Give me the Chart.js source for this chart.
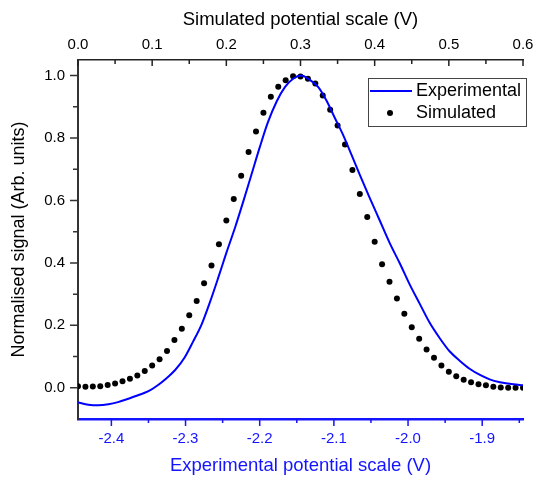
<!DOCTYPE html>
<html>
<head>
<meta charset="utf-8">
<script src="https://cdn.jsdelivr.net/npm/chart.js@4"></script>
<style>
  body { margin: 0; background: #fff; }
  #wrap { width: 535px; height: 477px; }
</style>
</head>
<body>
<div id="wrap"><canvas id="chartPotencial" width="535" height="477"></canvas></div>
<script>
// experimental curve (bottom axis, V)
const expPotential = [-2.445,-2.431,-2.418,-2.404,-2.391,-2.377,-2.364,-2.350,-2.337,-2.326,
  -2.314,-2.301,-2.290,-2.278,-2.267,-2.256,-2.245,-2.233,-2.222,-2.211,
  -2.200,-2.189,-2.177,-2.166,-2.155,-2.144,-2.133,-2.121,-2.110,-2.099,
  -2.087,-2.076,-2.065,-2.052,-2.038,-2.025,-2.011,-1.998,-1.984,-1.971,
  -1.957,-1.944,-1.930,-1.917,-1.903,-1.890,-1.876,-1.858,-1.845];
const expSignal = [-0.047,-0.054,-0.056,-0.053,-0.046,-0.035,-0.024,-0.011,0.009,0.030,
  0.057,0.098,0.147,0.205,0.275,0.352,0.432,0.515,0.598,0.684,
  0.770,0.850,0.918,0.963,0.990,1.000,0.987,0.963,0.920,0.866,
  0.807,0.745,0.682,0.610,0.535,0.465,0.398,0.332,0.268,0.209,
  0.158,0.117,0.086,0.061,0.041,0.027,0.018,0.011,0.008];

// simulated points (top axis, V)
const simPotential = [0.00,0.01,0.02,0.03,0.04,0.05,0.06,0.07,0.08,0.09,
  0.10,0.11,0.12,0.13,0.14,0.15,0.16,0.17,0.18,0.19,
  0.20,0.21,0.22,0.23,0.24,0.25,0.26,0.27,0.28,0.29,
  0.30,0.31,0.32,0.33,0.34,0.35,0.36,0.37,0.38,0.39,
  0.40,0.41,0.42,0.43,0.44,0.45,0.46,0.47,0.48,0.49,
  0.50,0.51,0.52,0.53,0.54,0.55,0.56,0.57,0.58,0.59,0.60];
const simSignal = [0.005,0.003,0.004,0.005,0.009,0.014,0.021,0.029,0.039,0.054,
  0.071,0.091,0.118,0.153,0.189,0.232,0.278,0.335,0.392,0.460,
  0.536,0.605,0.679,0.755,0.821,0.881,0.932,0.964,0.985,0.998,
  0.997,0.990,0.975,0.936,0.891,0.840,0.779,0.698,0.621,0.547,
  0.468,0.396,0.340,0.286,0.237,0.194,0.157,0.123,0.096,0.071,
  0.051,0.037,0.026,0.018,0.011,0.008,0.003,0.001,0.000,0.000,0.000];

// tick labels
const bottomTicks = [-2.4,-2.3,-2.2,-2.1,-2.0,-1.9];
const bottomMinor = [-2.35,-2.25,-2.15,-2.05,-1.95,-1.85];
const topTicks = [0.0,0.1,0.2,0.3,0.4,0.5,0.6];
const topMinor = [0.05,0.15,0.25,0.35,0.45,0.55];
const yTicks = [0.0,0.2,0.4,0.6,0.8,1.0];
const yMinor = [0.1,0.3,0.5,0.7,0.9];

const azul = '#1414ff';
const fuente = 'Liberation Sans, Arial, sans-serif';

const marcas = {
  id: 'marcas',
  afterDraw(chart) {
    const ctx = chart.ctx;
    const a = chart.chartArea;
    const dibujar = (scale, vals, len, color) => {
      ctx.save();
      ctx.strokeStyle = color;
      ctx.lineWidth = 1.5;
      ctx.beginPath();
      vals.forEach(v => {
        const p = scale.getPixelForValue(v);
        if (scale.axis === 'y') { ctx.moveTo(a.left, p); ctx.lineTo(a.left - len, p); }
        else if (scale.position === 'top') { ctx.moveTo(p, a.top); ctx.lineTo(p, a.top + len); }
        else { ctx.moveTo(p, a.bottom); ctx.lineTo(p, a.bottom + len); }
      });
      ctx.stroke();
      ctx.restore();
    };
    dibujar(chart.scales.x, bottomTicks, 7, azul);
    dibujar(chart.scales.x, bottomMinor, 4, azul);
    dibujar(chart.scales.x2, topTicks, 6, '#222');
    dibujar(chart.scales.x2, topMinor, 4, '#222');
    dibujar(chart.scales.y, yTicks, 8, '#333');
    dibujar(chart.scales.y, yMinor, 5, '#333');

    // legend box inside the plot
    const ds = chart.data.datasets;
    ctx.save();
    ctx.strokeStyle = '#444';
    ctx.lineWidth = 1;
    ctx.strokeRect(368.5, 78.5, 158, 48);
    ctx.strokeStyle = ds[0].borderColor;
    ctx.lineWidth = 2;
    ctx.beginPath(); ctx.moveTo(370, 91); ctx.lineTo(412, 91); ctx.stroke();
    ctx.fillStyle = ds[1].backgroundColor;
    ctx.beginPath(); ctx.arc(390, 113, 3, 0, Math.PI * 2); ctx.fill();
    ctx.fillStyle = '#000';
    ctx.font = '18px ' + fuente;
    ctx.textBaseline = 'middle';
    ctx.fillText(ds[0].label, 416, 91);
    ctx.fillText(ds[1].label, 416, 113);
    ctx.restore();
  }
};

const fijarTicks = vals => scale => { scale.ticks = vals.map(v => ({ value: v })); };
const ajusteX = h => s => { s.height = h; s.paddingLeft = 0; s.paddingRight = 0; };

new Chart(document.getElementById('chartPotencial'), {
  type: 'scatter',
  data: {
    datasets: [{
      label: 'Experimental',
      data: expPotential.map((x, i) => ({ x: x, y: expSignal[i] })),
      xAxisID: 'x',
      showLine: true,
      borderColor: '#0000ff',
      backgroundColor: '#0000ff',
      borderWidth: 2,
      pointRadius: 0,
      cubicInterpolationMode: 'monotone'
    }, {
      label: 'Simulated',
      data: simPotential.map((x, i) => ({ x: x, y: simSignal[i] })),
      xAxisID: 'x2',
      showLine: false,
      backgroundColor: '#000',
      borderColor: '#000',
      pointRadius: 3,
      borderWidth: 0
    }]
  },
  options: {
    responsive: false,
    animation: false,
    layout: { padding: { left: 0, right: 12, top: 0, bottom: 0 } },
    plugins: { legend: { display: false }, tooltip: { enabled: false } },
    scales: {
      x: {
        type: 'linear', position: 'bottom', min: -2.445, max: -1.845,
        afterBuildTicks: fijarTicks(bottomTicks),
        afterFit: ajusteX(58),
        grid: { display: false, drawTicks: false },
        border: { display: true, color: azul, width: 2.5 },
        ticks: { color: azul, font: { family: fuente, size: 15 }, padding: 11, maxRotation: 0, autoSkip: false,
          callback: v => v.toFixed(1) },
        title: { display: true, text: 'Experimental potential scale (V)', color: azul,
          font: { family: fuente, size: 18.5 }, padding: { top: 0, bottom: 0 } }
      },
      x2: {
        type: 'linear', position: 'top', min: 0, max: 0.6,
        afterBuildTicks: fijarTicks(topTicks),
        afterFit: ajusteX(60),
        grid: { display: false, drawTicks: false },
        border: { display: true, color: '#222', width: 1.5 },
        ticks: { color: '#000', font: { family: fuente, size: 15 }, padding: 6, maxRotation: 0, autoSkip: false,
          callback: v => v.toFixed(1) },
        title: { display: true, text: 'Simulated potential scale (V)', color: '#000',
          font: { family: fuente, size: 18.5 }, padding: { top: 9, bottom: 0 } }
      },
      y: {
        type: 'linear', min: -0.1, max: 1.05,
        afterBuildTicks: fijarTicks(yTicks),
        afterFit: s => { s.width = 78; },
        grid: { display: false, drawTicks: false },
        border: { display: true, color: '#333', width: 2 },
        ticks: { color: '#000', font: { family: fuente, size: 15 }, padding: 13,
          callback: v => v.toFixed(1) },
        title: { display: true, text: 'Normalised signal (Arb. units)', color: '#000',
          font: { family: fuente, size: 18 }, padding: { top: 8, bottom: 0 } }
      }
    }
  },
  plugins: [marcas]
});
</script>
</body>
</html>
